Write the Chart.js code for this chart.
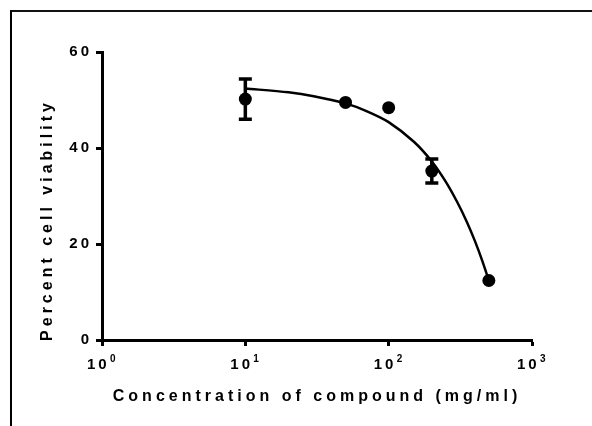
<!DOCTYPE html>
<html>
<head>
<meta charset="utf-8">
<script src="https://cdn.jsdelivr.net/npm/chart.js@4.4.1/dist/chart.umd.min.js"></script>
<style>
    html, body { margin: 0; padding: 0; background: #fff; }
    #wrap { position: relative; width: 592px; height: 426px; }
    #cadre {
        position: absolute; left: 10px; top: 10px; right: 0; bottom: 0;
        border-top: 2px solid #111; border-left: 2px solid #000;
        pointer-events: none;
    }
</style>
</head>
<body>
<div id="wrap">
    <canvas id="viabilite" width="592" height="426"></canvas>
    <div id="cadre"></div>
</div>
<script>
//------------------- DONNEES -------------------

const concentrations = [10, 50, 100, 200, 500];
const viabilite = [50.2, 49.5, 48.4, 35.2, 12.4];
const erreurs = [4.2, 0, 0, 2.5, 0];

// courbe ajustée
const courbeX = [10, 20, 30, 50, 70, 100, 150, 200, 250, 300, 350, 400, 450, 500];
const courbeY = [52.4, 51.6, 50.8, 49.3, 47.7, 45.4, 41.3, 37.2, 33.0, 28.8, 24.7, 20.6, 16.5, 12.4];

const ticksX = [1, 10, 100, 1000];
const exposantsX = ['0', '1', '2', '3'];
const ticksY = [0, 20, 40, 60];

const titreX = 'Concentration of compound (mg/ml)';
const titreY = 'Percent cell viability';

//------------------------------------------------------------------------

const famille = '"Liberation Sans", Arial, sans-serif';

// espacement des lettres (comme dans le graphique d'origine)
const espacement = {
    id: 'espacement',
    beforeUpdate(chart) { chart.ctx.letterSpacing = '3px'; },
    beforeDraw(chart) { chart.ctx.letterSpacing = '3px'; }
};

// barres d'erreur dessinées avec les échelles du graphique
const barresErreur = {
    id: 'barresErreur',
    afterDatasetsDraw(chart) {
        const ctx = chart.ctx;
        const sx = chart.scales.x;
        const sy = chart.scales.y;
        ctx.save();
        ctx.strokeStyle = '#000';
        ctx.lineWidth = 3.5;
        concentrations.forEach((c, i) => {
            if (!erreurs[i]) return;
            const x = sx.getPixelForValue(c);
            const haut = sy.getPixelForValue(viabilite[i] + erreurs[i]);
            const bas = sy.getPixelForValue(viabilite[i] - erreurs[i]);
            ctx.beginPath();
            ctx.moveTo(x, haut); ctx.lineTo(x, bas);
            ctx.moveTo(x - 6.5, haut); ctx.lineTo(x + 6.5, haut);
            ctx.moveTo(x - 6.5, bas); ctx.lineTo(x + 6.5, bas);
            ctx.stroke();
        });
        ctx.restore();
    }
};

// étiquettes 10^n et titres des axes
const textes = {
    id: 'textes',
    afterDraw(chart) {
        const ctx = chart.ctx;
        const zone = chart.chartArea;
        const sx = chart.scales.x;
        ctx.save();
        ctx.fillStyle = '#000';

        ticksX.forEach((v, i) => {
            const x = sx.getPixelForValue(v);
            ctx.letterSpacing = '3px';
            ctx.font = 'bold 15px ' + famille;
            ctx.textAlign = 'left';
            ctx.textBaseline = 'alphabetic';
            ctx.fillText('10', x - 15, 369);
            ctx.letterSpacing = '0px';
            ctx.font = 'bold 10px ' + famille;
            ctx.fillText(exposantsX[i], x + 8, 362);
        });

        ctx.font = 'bold 16px ' + famille;
        ctx.letterSpacing = '4px';
        ctx.textAlign = 'center';
        ctx.textBaseline = 'middle';
        ctx.fillText(titreX, (zone.left + zone.right) / 2, 397);

        ctx.translate(48, 222);
        ctx.rotate(-Math.PI / 2);
        ctx.fillText(titreY, 2, 0);
        ctx.restore();
    }
};

const ctx = document.getElementById('viabilite').getContext('2d');

new Chart(ctx, {
    type: 'scatter',
    plugins: [espacement, barresErreur, textes],
    data: {
        datasets: [{
            data: concentrations.map((c, i) => ({ x: c, y: viabilite[i] })),
            pointRadius: 6.5,
            pointBackgroundColor: '#000',
            pointBorderWidth: 0,
            showLine: false,
            order: 0
        }, {
            data: courbeX.map((c, i) => ({ x: c, y: courbeY[i] })),
            showLine: true,
            borderColor: '#000',
            borderWidth: 2.5,
            pointRadius: 0,
            tension: 0.3,
            order: 1
        }]
    },
    options: {
        responsive: false,
        animation: false,
        layout: {
            padding: { left: 20, right: 60, top: 52, bottom: 0 }
        },
        scales: {
            x: {
                type: 'logarithmic',
                min: 1,
                max: 1000,
                afterBuildTicks: (scale) => { scale.ticks = ticksX.map(v => ({ value: v })); },
                afterFit: (scale) => { scale.height = 86; },
                grid: { drawOnChartArea: false, tickLength: 6, tickWidth: 3, tickColor: '#000' },
                border: { display: true, width: 3, color: '#000' },
                ticks: { display: false, autoSkip: false, maxRotation: 0 }
            },
            y: {
                min: 0,
                max: 60,
                afterBuildTicks: (scale) => { scale.ticks = ticksY.map(v => ({ value: v })); },
                afterFit: (scale) => { scale.width = 82; },
                grid: { drawOnChartArea: false, tickLength: 6, tickWidth: 3, tickColor: '#000' },
                border: { display: true, width: 3, color: '#000' },
                ticks: {
                    color: '#000',
                    padding: 4,
                    font: { family: famille, size: 15, weight: 'bold' }
                }
            }
        },
        plugins: {
            legend: { display: false },
            tooltip: { enabled: false }
        }
    }
});
</script>
</body>
</html>
